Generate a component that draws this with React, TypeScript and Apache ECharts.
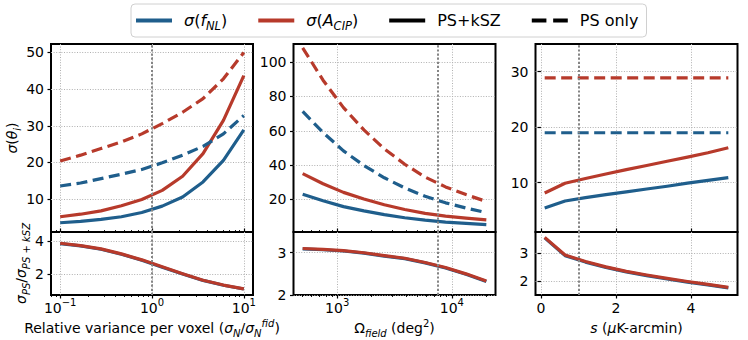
import React, { useEffect, useRef } from "react";
import * as echarts from "echarts";

// ---------- data ----------
// Panel 1: relative variance per voxel (log x)
const voxelVariance = [0.1, 0.1668, 0.2783, 0.4642, 0.7743, 1.2915, 2.1544, 3.5938, 5.9948, 10];
const fnlKszVoxel = [3.57, 3.93, 4.47, 5.2, 6.38, 8.1, 10.6, 14.7, 20.6, 28.9];
const acipKszVoxel = [5.2, 5.9, 6.8, 8.2, 9.9, 12.4, 16.25, 22.4, 31.5, 43.7];
const fnlPsVoxel = [13.6, 14.4, 15.6, 16.8, 18.1, 19.9, 22.0, 24.4, 27.8, 32.8];
const acipPsVoxel = [20.4, 22.0, 23.8, 25.6, 27.8, 30.6, 33.7, 37.4, 42.8, 50.0];
const fnlRatioVoxel = [3.86, 3.72, 3.52, 3.22, 2.86, 2.44, 2.03, 1.64, 1.35, 1.12];
const acipRatioVoxel = [3.88, 3.74, 3.54, 3.24, 2.88, 2.46, 2.04, 1.65, 1.36, 1.13];

// Panel 2: survey area (log x)
const fieldArea = [500, 753, 1135, 1710, 2577, 3883, 5850, 8815, 13283, 20000];
const fnlKszField = [23.0, 19.2, 15.8, 13.3, 11.1, 9.3, 7.9, 6.8, 6.0, 5.3];
const acipKszField = [35.0, 29.1, 24.1, 20.2, 16.9, 14.1, 11.9, 10.3, 9.1, 8.1];
const fnlPsField = [71.3, 59.0, 48.3, 39.8, 32.6, 26.7, 21.8, 18.0, 15.0, 12.3];
const acipPsField = [108.4, 89.5, 73.5, 60.5, 49.5, 40.5, 33.0, 27.3, 22.8, 18.8];
const fnlRatioField = [3.09, 3.07, 3.04, 2.99, 2.92, 2.86, 2.76, 2.64, 2.49, 2.32];
const acipRatioField = [3.1, 3.08, 3.05, 3.0, 2.93, 2.87, 2.77, 2.65, 2.5, 2.33];

// Panel 3: kSZ noise s
const kszNoise = [0.1, 0.644, 1.189, 1.733, 2.278, 2.822, 3.367, 3.911, 4.456, 5.0];
const fnlKszNoise = [5.42, 6.69, 7.3, 7.85, 8.35, 8.85, 9.35, 9.9, 10.4, 10.9];
const acipKszNoise = [8.13, 9.9, 10.75, 11.55, 12.35, 13.1, 13.85, 14.6, 15.4, 16.3];
const fnlPsNoise = [19.0, 19.0, 19.0, 19.0, 19.0, 19.0, 19.0, 19.0, 19.0, 19.0];
const acipPsNoise = [28.9, 28.9, 28.9, 28.9, 28.9, 28.9, 28.9, 28.9, 28.9, 28.9];
const fnlRatioNoise = [3.53, 2.9, 2.67, 2.48, 2.32, 2.19, 2.07, 1.96, 1.86, 1.755];
const acipRatioNoise = [3.55, 2.92, 2.69, 2.5, 2.34, 2.21, 2.09, 1.98, 1.88, 1.77];

// fiducial markers
const fiducialVoxel = 1;
const fiducialField = 7500;
const fiducialNoise = 1;

// ticks
const voxelTicks = [0.1, 1, 10];
const voxelMinorTicks = [0.08, 0.09, 0.2, 0.3, 0.4, 0.5, 0.6, 0.7, 0.8, 0.9, 2, 3, 4, 5, 6, 7, 8, 9];
const fieldTicks = [1000, 10000];
const fieldMinorTicks = [500, 600, 700, 800, 900, 2000, 3000, 4000, 5000, 6000, 7000, 8000, 9000, 20000];
const noiseTicks = [0, 2, 4];
const yTicksTop1 = [10, 20, 30, 40, 50];
const yTicksBottom1 = [2, 4];
const yTicksTop2 = [20, 40, 60, 80, 100];
const yTicksBottom2 = [2, 3];
const yTicksTop3 = [10, 20, 30];
const yTicksBottom3 = [2, 3];

const legendNames = ["σ(f_NL)", "σ(A_CIP)", "PS+kSZ", "PS only"];

// ---------- style ----------
const FONT = "DejaVu Sans";
const BLUE = "#1f5e8c";
const RED = "#b73a2b";
const LW = 3.2;
const DASH = [11, 5.5];

const COLS = [51, 293.5, 535.5];
const GW = 202;
const TOP_T = 44;
const TOP_H = 188;
const BOT_T = 232;
const BOT_H = 63;

const mathRich = {
  it: { fontStyle: "italic", fontFamily: FONT, fontSize: 14 },
  sub: { fontStyle: "italic", fontFamily: FONT, fontSize: 10, verticalAlign: "bottom", lineHeight: 11 },
  subUp: { fontStyle: "normal", fontFamily: FONT, fontSize: 10, verticalAlign: "bottom", lineHeight: 11 },
  sup: { fontStyle: "italic", fontFamily: FONT, fontSize: 10, verticalAlign: "top", lineHeight: 12 },
  supUp: { fontStyle: "normal", fontFamily: FONT, fontSize: 10, verticalAlign: "top", lineHeight: 12 },
};

const tickLine = { color: "#000", width: 1.2 };
const splitLine = { show: true, lineStyle: { color: "#b0b0b0", width: 1, type: [1, 1.6] } };

function logLabel(v: number) {
  const e = Math.round(Math.log10(v));
  return "10{supUp|" + String(e).replace("-", "−") + "}";
}

function xMain(gridIndex: number, opts: any, bottom: boolean) {
  const { ticks, labelFormatter, name, ...rest } = opts;
  return {
    gridIndex,
    position: "bottom",
    axisLine: { show: false },
    axisTick: { show: true, inside: !bottom, length: 3.5, lineStyle: tickLine, customValues: ticks },
    axisLabel: bottom
      ? {
          show: true,
          customValues: ticks,
          color: "#000",
          fontFamily: FONT,
          fontSize: 14,
          lineHeight: 20,
          margin: 2.5,
          formatter: labelFormatter,
          rich: mathRich,
        }
      : { show: false },
    splitLine,
    name: bottom ? name : undefined,
    nameLocation: "middle",
    nameGap: 16,
    nameTextStyle: { color: "#000", fontFamily: FONT, fontSize: 14, lineHeight: 20, rich: mathRich },
    ...rest,
  };
}

function xMinor(gridIndex: number, min: number, max: number, ticks: number[], bottom: boolean) {
  return {
    type: "log",
    logBase: 10,
    gridIndex,
    min,
    max,
    position: "bottom",
    axisLine: { show: false },
    axisLabel: { show: false },
    splitLine: { show: false },
    axisTick: { show: true, inside: !bottom, length: 2, lineStyle: { color: "#000", width: 0.9 }, customValues: ticks },
  };
}

function yAxis(gridIndex: number, min: number, max: number, splitNumber: number, ticks: number[], name?: string, nameGap?: number) {
  return {
    type: "value",
    gridIndex,
    min,
    max,
    splitNumber,
    axisLine: { show: false },
    axisTick: { show: true, length: 3.5, lineStyle: tickLine, customValues: ticks },
    axisLabel: { show: true, customValues: ticks, color: "#000", fontFamily: FONT, fontSize: 14, margin: 7 },
    splitLine,
    name,
    nameLocation: "middle",
    nameRotate: 90,
    nameGap,
    nameTextStyle: { color: "#000", fontFamily: FONT, fontSize: 14, lineHeight: 20, rich: mathRich },
  };
}

function lineSeries(name: string, xIdx: number, yIdx: number, xs: number[], ys: number[], color: string, dashed: boolean, extra: any = {}) {
  return {
    type: "line",
    name,
    xAxisIndex: xIdx,
    yAxisIndex: yIdx,
    data: xs.map((x, i) => [x, ys[i]]),
    symbol: "none",
    showSymbol: false,
    silent: true,
    emphasis: { disabled: true },
    itemStyle: { color },
    lineStyle: { color, width: LW, type: dashed ? DASH : "solid", cap: "butt", join: "round" },
    z: 3,
    ...extra,
  };
}

function vline(value: number) {
  return {
    markLine: {
      silent: true,
      symbol: ["none", "none"],
      label: { show: false },
      emphasis: { disabled: true },
      lineStyle: { color: "#858585", width: 2, type: [2.2, 1.9] },
      data: [{ xAxis: value }],
    },
  };
}

const legendFormat: Record<string, string> = {
  "σ(f_NL)": "{it|σ}({it|f}{lsub|NL})",
  "σ(A_CIP)": "{it|σ}({it|A}{lsub|CIP})",
  "PS+kSZ": "PS+kSZ",
  "PS only": "PS only",
};

export default function App() {
  const ref = useRef<HTMLDivElement>(null);
  useEffect(() => {
    if (!ref.current) return;
    const chart = echarts.init(ref.current, undefined, { renderer: "svg" });

    const vMin = Math.pow(10, -1.1);
    const vMax = Math.pow(10, 1.1);
    const fMin = Math.pow(10, 2.619);
    const fMax = Math.pow(10, 4.381);

    const grids = [];
    for (let c = 0; c < 3; c++) {
      grids.push({ left: COLS[c], top: TOP_T, width: GW, height: TOP_H, show: true, borderColor: "#000", borderWidth: 2, backgroundColor: "transparent", outerBoundsMode: "none", containLabel: false });
      grids.push({ left: COLS[c], top: BOT_T, width: GW, height: BOT_H, show: true, borderColor: "#000", borderWidth: 2, backgroundColor: "transparent", outerBoundsMode: "none", containLabel: false });
    }

    const xAxes = [
      xMain(0, { type: "log", logBase: 10, min: vMin, max: vMax, ticks: voxelTicks, labelFormatter: logLabel }, false),
      xMain(1, {
        type: "log", logBase: 10, min: vMin, max: vMax, ticks: voxelTicks, labelFormatter: logLabel,
        name: "Relative variance per voxel ({it|σ}{sub|N}/{it|σ}{sub|N}{sup|fid})",
      }, true),
      xMain(2, { type: "log", logBase: 10, min: fMin, max: fMax, ticks: fieldTicks, labelFormatter: logLabel }, false),
      xMain(3, {
        type: "log", logBase: 10, min: fMin, max: fMax, ticks: fieldTicks, labelFormatter: logLabel,
        name: "Ω{sub|field} (deg{supUp|2})",
      }, true),
      xMain(4, { type: "value", min: -0.145, max: 5.245, splitNumber: 3, ticks: noiseTicks, labelFormatter: (v: number) => String(v) }, false),
      xMain(5, {
        type: "value", min: -0.145, max: 5.245, splitNumber: 3, ticks: noiseTicks, labelFormatter: (v: number) => String(v),
        name: "{it|s} ({it|μ}K-arcmin)",
      }, true),
      xMinor(0, vMin, vMax, voxelMinorTicks, false),
      xMinor(1, vMin, vMax, voxelMinorTicks, true),
      xMinor(2, fMin, fMax, fieldMinorTicks, false),
      xMinor(3, fMin, fMax, fieldMinorTicks, true),
    ];

    const yAxes = [
      yAxis(0, 1.05, 52.3, 5, yTicksTop1, "{it|σ}({it|θ}{sub|i})", 26),
      yAxis(1, 0.76, 4.56, 2, yTicksBottom1, "{it|σ}{sub|PS}/{it|σ}{sub|PS + kSZ}", 13),
      yAxis(2, 1.0, 110.6, 5, yTicksTop2),
      yAxis(3, 2.0, 3.49, 1, yTicksBottom2),
      yAxis(4, 1.1, 35, 3, yTicksTop3),
      yAxis(5, 1.5, 3.74, 2, yTicksBottom3),
    ];

    const series: any[] = [
      // panel 1 top
      lineSeries("σ(f_NL)", 0, 0, voxelVariance, fnlKszVoxel, BLUE, false),
      lineSeries("σ(A_CIP)", 0, 0, voxelVariance, acipKszVoxel, RED, false),
      lineSeries("σ(f_NL) PS only", 0, 0, voxelVariance, fnlPsVoxel, BLUE, true),
      lineSeries("σ(A_CIP) PS only", 0, 0, voxelVariance, acipPsVoxel, RED, true, vline(fiducialVoxel)),
      // panel 1 bottom
      lineSeries("ratio f_NL voxel", 1, 1, voxelVariance, fnlRatioVoxel, BLUE, false),
      lineSeries("ratio A_CIP voxel", 1, 1, voxelVariance, acipRatioVoxel, RED, false, vline(fiducialVoxel)),
      // panel 2 top
      lineSeries("σ(f_NL) field", 2, 2, fieldArea, fnlKszField, BLUE, false),
      lineSeries("σ(A_CIP) field", 2, 2, fieldArea, acipKszField, RED, false),
      lineSeries("σ(f_NL) PS only field", 2, 2, fieldArea, fnlPsField, BLUE, true),
      lineSeries("σ(A_CIP) PS only field", 2, 2, fieldArea, acipPsField, RED, true, vline(fiducialField)),
      // panel 2 bottom
      lineSeries("ratio f_NL field", 3, 3, fieldArea, fnlRatioField, BLUE, false),
      lineSeries("ratio A_CIP field", 3, 3, fieldArea, acipRatioField, RED, false, vline(fiducialField)),
      // panel 3 top
      lineSeries("σ(f_NL) noise", 4, 4, kszNoise, fnlKszNoise, BLUE, false),
      lineSeries("σ(A_CIP) noise", 4, 4, kszNoise, acipKszNoise, RED, false),
      lineSeries("σ(f_NL) PS only noise", 4, 4, kszNoise, fnlPsNoise, BLUE, true),
      lineSeries("σ(A_CIP) PS only noise", 4, 4, kszNoise, acipPsNoise, RED, true, vline(fiducialNoise)),
      // panel 3 bottom
      lineSeries("ratio f_NL noise", 5, 5, kszNoise, fnlRatioNoise, BLUE, false),
      lineSeries("ratio A_CIP noise", 5, 5, kszNoise, acipRatioNoise, RED, false, vline(fiducialNoise)),
      // legend-only entries
      lineSeries("PS+kSZ", 0, 0, [], [], "#000", false),
      lineSeries("PS only", 0, 0, [], [], "#000", true),
    ];

    chart.setOption({
      animation: false,
      backgroundColor: "#ffffff",
      textStyle: { fontFamily: FONT },
      legend: {
        show: true,
        left: 131,
        top: 4,
        orient: "horizontal",
        itemWidth: 36,
        itemHeight: 4,
        itemGap: 31,
        symbolKeepAspect: false,
        selectedMode: false,
        padding: [5.5, 8, 5.5, 5],
        backgroundColor: "#ffffff",
        borderColor: "#d0d0d0",
        borderWidth: 1,
        borderRadius: 4,
        itemStyle: { borderWidth: 0 },
        data: [
          { name: legendNames[0], icon: "rect" },
          { name: legendNames[1], icon: "rect" },
          { name: legendNames[2], icon: "rect" },
          { name: legendNames[3], icon: "path://M0 0h13v4h-13z M19 0h13v4h-13z" },
        ],
        formatter: (name: string) => legendFormat[name] || name,
        textStyle: {
          color: "#000",
          fontFamily: FONT,
          fontSize: 16,
          lineHeight: 22,
          padding: [0, 0, 0, 7],
          rich: {
            it: { fontStyle: "italic", fontFamily: FONT, fontSize: 16 },
            lsub: { fontStyle: "italic", fontFamily: FONT, fontSize: 11.5, verticalAlign: "bottom", lineHeight: 12 },
          },
        },
      },
      grid: grids,
      xAxis: xAxes,
      yAxis: yAxes,
      series,
    });

    return () => chart.dispose();
  }, []);

  return (
    <div
      ref={ref}
      style={{ position: "fixed", left: 0, top: 0, width: 748, height: 340, background: "#fff" }}
    />
  );
}
